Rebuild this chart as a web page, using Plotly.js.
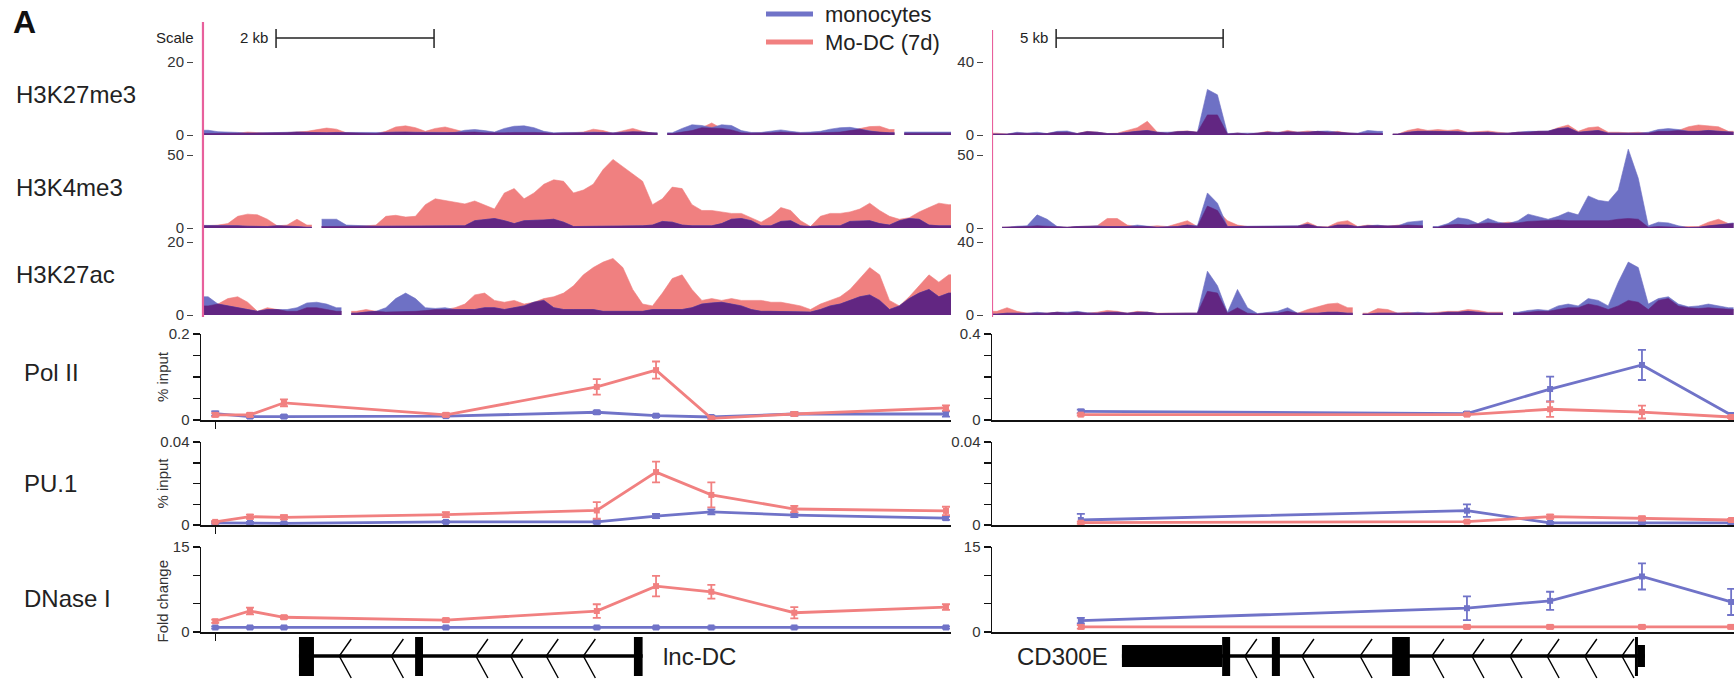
<!DOCTYPE html>
<html><head><meta charset="utf-8">
<script src="https://cdn.plot.ly/plotly-3.0.1.min.js"></script>
<style>html,body{margin:0;padding:0;background:#fff}#chart{width:1734px;height:681px}</style>
</head><body><div id="chart"></div>
<script>
// ---------------- DATA ----------------
// genome tracks: bins along each locus (kb); left bins 0.125 kb, right bins 0.3 kb
const leftBinStart = 0.09, leftBinStep = 0.125;
const rightBinStart = 0.15, rightBinStep = 0.3;

const L_H3K27me3_modc = [0.4,0.4,0.4,0.5,0.8,0.6,0.5,0.6,0.6,0.8,
1.0,1.5,1.9,1.6,0.6,0.5,0.3,0.4,1.0,2.2,
2.5,2.0,1.0,1.8,2.2,1.5,0.8,0.8,0.6,0.5,
0.6,0.7,0.8,0.7,0.6,0.4,0.5,0.6,0.8,1.6,
1.2,0.5,1.2,1.8,1.0,0.5,null,0.4,0.8,1.2,
2.0,3.3,1.8,1.4,0.6,0.5,0.5,0.6,0.8,0.6,
0.5,0.5,0.6,0.7,0.8,1.2,1.8,2.3,2.4,1.5,
null,0.5,0.5,0.5,0.5,0.5];
const L_H3K27me3_mono = [1.3,0.9,0.7,0.7,0.5,0.6,0.7,0.8,0.9,0.8,
0.7,0.6,0.6,0.7,0.7,0.6,0.5,0.6,0.7,0.8,
0.8,0.7,0.6,0.6,0.6,0.7,1.3,1.5,1.2,0.8,
1.8,2.4,2.5,2.0,1.0,0.6,0.7,0.6,0.7,0.8,
0.7,0.6,0.8,0.9,0.8,0.6,null,0.6,1.8,2.8,
2.6,2.0,2.8,2.6,1.2,0.7,0.7,1.0,1.4,1.0,
0.7,0.8,1.0,1.6,2.0,2.1,1.6,1.0,0.7,0.6,
null,0.8,0.8,0.8,0.8,0.8];
const L_H3K4me3_modc = [1.5,2.0,3.0,8.0,9.5,9.0,6.0,1.5,2.0,6.0,
2.0,null,1.0,1.0,1.0,1.0,1.5,2.0,8.0,8.7,
7.5,8.0,16,20,19,17.5,16.5,18.5,16,13,
24,27,20,24,30,33,32,24,26,30,
40,47,42,37,32,16,20,28,27,16,
12,12,11,10,10,7,4,8,14,12,
5,1,8,10,10,11,13,17,12,8,
6,7,11,14,17,16];
const L_H3K4me3_mono = [1.8,1.8,1.8,1.5,1.2,1.0,1.0,1.5,1.5,1.0,
0.5,null,6.0,6.0,2.0,1.5,1.5,1.2,1.2,1.2,
1.2,1.5,1.5,1.5,1.5,1.5,1.5,5.0,6.0,6.5,
5.0,3.0,5.0,5.0,5.5,6.0,4.0,1.0,1.0,1.0,
1.0,1.0,1.0,1.5,1.5,2.0,4.5,4.0,2.0,1.5,
1.5,1.5,3.0,6.0,6.5,5.0,1.5,1.5,4.5,5.0,
1.5,1.0,1.5,1.5,1.5,4.5,5.0,5.0,3.0,2.0,
5.0,6.5,6.0,2.0,1.5,1.5];
const L_H3K27ac_modc = [2.5,3.0,4.5,5.0,3.5,1.0,2.0,1.5,1.0,1.0,
2.0,2.0,1.5,1.0,null,1.0,1.5,1.0,0.8,0.8,
1.0,1.0,1.2,1.5,1.5,2.0,3.0,5.5,6.0,4.0,
3.5,4.0,3.0,3.5,4.5,5.0,6.0,8.0,11,13,
14.5,15.5,13,7,3,2.5,6,10,11,7,
4,4.5,4,4.5,4,4,4,3.5,3.5,3,
2.5,1.5,3,4,5,7,10,13,11,4,
2.5,5,8,11,9,11];
const L_H3K27ac_mono = [5.0,3.0,2.5,2.0,1.5,1.0,1.5,1.5,1.5,2.0,
3.3,3.5,3.0,2.0,null,0.5,0.8,1.0,2.0,4.5,
6.0,4.5,2.0,1.8,2.0,1.5,1.5,1.5,2.0,2.0,
1.5,2.0,2.5,3.5,4.0,2.0,1.5,1.5,1.5,1.5,
1.0,1.0,1.0,1.0,1.0,1.5,1.5,1.5,1.5,2.0,
3.0,3.3,3.5,3.0,2.5,1.5,1.0,1.0,1.0,1.0,
1.0,0.8,1.5,2.5,3.0,4.0,5.0,5.5,4.0,1.5,
2.5,4.5,6.0,7.0,5.0,6.0];

const R_H3K27me3_modc = [1.0,0.5,1.0,0.8,1.0,0.8,1.5,1.5,0.8,2.0,
1.5,0.8,1.0,2.5,4.0,7.5,1.5,1.0,2.0,2.2,
1.5,11,11,0.5,1.0,0.5,1.0,2.0,1.2,2.5,
1.5,2.2,2.0,1.5,2.0,1.0,0.8,1.0,0.8,null,
0.5,2.5,3.5,2.5,3.0,2.5,3.0,1.5,2.0,2.2,
1.5,1.0,1.5,1.5,2.0,2.0,4.0,5.5,2.0,4.0,
4.5,1.5,1.5,1.2,1.5,1.0,2.0,2.0,2.5,4.5,
5.5,5.0,4.5,2.0];
const R_H3K27me3_mono = [0.5,0.5,1.5,1.0,1.5,0.8,2.0,2.2,0.8,1.8,
1.5,0.8,0.8,1.2,2.0,2.5,1.5,1.5,1.8,2.0,
1.5,25,22,0.8,1.0,0.8,1.0,1.5,1.5,1.8,
1.5,1.5,2.0,2.2,1.5,1.0,1.0,2.5,2.0,null,
0.5,1.5,2.0,2.0,2.0,2.0,1.8,1.2,1.5,1.5,
1.0,1.0,1.5,2.0,2.0,2.2,3.5,4.0,1.5,2.0,
2.5,1.0,1.0,1.0,1.0,1.5,3.0,3.5,3.0,2.0,
2.0,2.5,2.0,1.5];
const R_H3K4me3_modc = [null,0.5,1.0,1.0,1.5,1.0,0.8,0.5,1.0,1.0,
1.5,6.5,6.5,2.0,1.0,1.0,1.5,1.0,3.0,5.0,
1.0,15,12,5.0,2.0,1.0,0.8,1.0,1.0,1.0,
1.2,4.0,1.0,0.8,4.0,5.0,1.0,2.0,1.5,1.0,
2.0,2.0,1.5,null,0.5,2.0,2.5,2.0,2.5,3.5,
3.0,4.0,3.5,4.5,5.0,5.0,5.5,5.0,5.0,5.0,
5.5,5.0,6.0,6.5,6.0,0.5,1.0,1.0,0.5,0.8,
1.0,4.0,6.0,3.0];
const R_H3K4me3_mono = [null,0.5,1.2,1.5,9.0,6.0,1.0,0.5,1.0,1.2,
1.5,1.0,1.0,1.0,2.0,1.0,0.5,0.8,1.0,2.0,
1.5,24,17,1.0,1.0,1.2,1.0,1.5,1.2,1.2,
1.5,2.5,0.8,0.5,2.0,2.0,0.8,1.5,2.0,1.0,
1.5,4.0,5.0,null,1.0,3.0,7.0,6.0,3.0,6.5,
4.0,3.0,5.0,9.5,8.0,6.0,8.0,11,9.0,22,
19,18,26,54,34,1.5,4.0,3.5,1.5,0.3,
0.5,1.5,2.0,3.5];
const R_H3K27ac_modc = [2.0,4.0,2.0,1.0,0.8,1.0,1.5,1.0,1.5,1.0,
1.5,2.5,2.0,1.0,2.0,1.5,1.0,1.0,0.8,1.0,
1.0,13,12,1.0,4.0,1.0,0.5,1.0,1.0,2.0,
1.0,3.0,4.5,6.0,6.5,4.0,null,1.0,3.5,3.0,
1.0,1.5,1.0,1.0,1.5,2.0,2.0,3.0,2.5,1.5,
1.5,null,1.0,1.5,2.0,2.0,3.0,4.0,4.0,6.0,
5.0,3.0,5.0,8.0,7.0,3.0,8.0,9.0,5.0,4.0,
3.5,4.0,3.5,3.0];
const R_H3K27ac_mono = [0.5,1.0,1.0,0.8,1.5,1.0,1.5,1.5,2.0,1.2,
1.0,1.5,1.5,1.0,1.5,1.5,0.8,1.0,1.0,1.0,
1.0,24,16,1.5,14,4.0,0.8,1.5,2.0,4.0,
1.0,1.0,1.0,1.5,1.5,1.0,null,0.5,1.0,1.0,
1.0,1.0,1.5,1.0,1.0,1.5,1.5,2.0,1.5,1.0,
1.0,null,1.5,2.5,3.0,2.5,5.0,6.0,5.0,9.0,
8.0,5.0,18,29,26,6.0,9.0,10,6.0,4.5,
5.0,6.0,5.0,4.0];

// qPCR positions (kb along locus)
const leftPos  = [0.18, 0.62, 1.05, 3.10, 5.01, 5.76, 6.46, 7.51, 9.43];
const rightPos = [2.66, 14.22, 16.71, 19.46, 22.13];

const L_PolII_mono = [0.015,0.008,0.008,0.009,0.018,0.010,0.007,0.014,0.014];
const L_PolII_modc = [0.012,0.012,0.040,0.012,0.077,0.116,0.004,0.014,0.028];
const L_PolII_mono_err = [0.005,0.003,0.003,0.003,0.004,0.003,0.003,0.004,0.006];
const L_PolII_modc_err = [0.004,0.004,0.008,0.004,0.018,0.02,0.003,0.004,0.006];
const L_PU1_mono = [0.001,0.001,0.0008,0.0015,0.0015,0.0043,0.0063,0.0048,0.0033];
const L_PU1_modc = [0.0015,0.004,0.0037,0.005,0.007,0.0255,0.0145,0.0077,0.0068];
const L_PU1_mono_err = [0.0005,0.0005,0.0005,0.0005,0.0008,0.001,0.0012,0.001,0.0008];
const L_PU1_modc_err = [0.0005,0.001,0.001,0.0012,0.004,0.005,0.006,0.0015,0.002];
const L_DNase_mono = [0.8,0.8,0.8,0.8,0.8,0.8,0.8,0.8,0.8];
const L_DNase_modc = [1.9,3.7,2.6,2.1,3.7,8.1,7.1,3.4,4.4];
const L_DNase_mono_err = [0.2,0.2,0.2,0.2,0.2,0.2,0.2,0.2,0.2];
const L_DNase_modc_err = [0.3,0.6,0.3,0.3,1.2,1.8,1.2,1.0,0.5];

const R_PolII_mono = [0.040,0.030,0.144,0.256,0.023];
const R_PolII_modc = [0.025,0.025,0.050,0.037,0.014];
const R_PolII_mono_err = [0.008,0.008,0.058,0.07,0.01];
const R_PolII_modc_err = [0.005,0.005,0.035,0.03,0.005];
const R_PU1_mono = [0.0024,0.0069,0.001,0.001,0.001];
const R_PU1_modc = [0.0011,0.0016,0.004,0.0032,0.0024];
const R_PU1_mono_err = [0.003,0.003,0.0005,0.0005,0.0005];
const R_PU1_modc_err = [0.0005,0.0005,0.001,0.001,0.0005];
const R_DNase_mono = [2.0,4.2,5.5,9.8,5.3];
const R_DNase_modc = [0.9,0.9,0.9,0.9,0.9];
const R_DNase_mono_err = [0.5,2.1,1.6,2.3,2.3];
const R_DNase_modc_err = [0.3,0.3,0.3,0.3,0.3];

// axis tick values
const trackMaxLeft  = [20, 50, 20];
const trackMaxRight = [40, 50, 40];
const lineTicksLeft  = [[0,0.05,0.1,0.15,0.2],[0,0.01,0.02,0.03,0.04],[0,5,10,15]];
const lineTicksRight = [[0,0.1,0.2,0.3,0.4],[0,0.01,0.02,0.03,0.04],[0,5,10,15]];
const lineTickLabelsLeft  = [['0','','','','0.2'],['0','','','','0.04'],['0','','','15']];
const lineTickLabelsRight = [['0','','','','0.4'],['0','','','','0.04'],['0','','','15']];

const trackNames = ['H3K27me3','H3K4me3','H3K27ac'];
const lineNames = ['Pol II','PU.1','DNase I'];
const lineYTitles = ['% input','% input','Fold change'];
const seriesNames = ['monocytes','Mo-DC (7d)'];

// gene models (kb along locus)
const leftGene = {name:'lnc-DC', start:1.24, end:5.59,
  exons:[[1.24,1.43],[2.71,2.81],[5.48,5.59]], utr:[],
  chevrons:[1.75,2.41,3.48,3.92,4.37,4.84]};
const rightGene = {name:'CD300E', start:3.89, end:19.55,
  exons:[[6.89,7.13],[8.38,8.62],[11.98,12.51],[19.25,19.34]], utr:[[3.89,6.89],[19.34,19.55]],
  chevrons:[7.57,9.28,11.02,13.17,14.37,15.51,16.62,17.75,18.86]};
const scaleLeft = {start:0.95, len:2, label:'2 kb'};
const scaleRight = {start:1.92, len:5, label:'5 kb'};

// ---------------- STYLE / LAYOUT ----------------
const W = 1734, H = 681;
const FONT = 'Liberation Sans, Arial, Helvetica, sans-serif';
const PINK = 'rgb(240,128,128)', BLUE = 'rgb(110,113,197)', PURPLE = 'rgb(98,38,130)';
const LPINK = 'rgb(241,128,128)', LBLUE = 'rgb(112,115,200)';
const PINKLINE = 'rgb(232,96,156)';
const X = px => px / W;
const Y = py => 1 - py / H;
const leftDom = [X(201), X(951)], rightDom = [X(992), 1];
const leftPxPerKb = 79, rightPxPerKb = 33.4;
const leftRange = [0, 750 / leftPxPerKb], rightRange = [0, 742 / rightPxPerKb];

const trackRows = [{zero:135, top:62}, {zero:228, top:155}, {zero:315, top:242}];
const lineRows = [{zero:420, top:334}, {zero:525, top:442}, {zero:632, top:547}];
const HEAD = 1.12;

const traces = [];
const layout = {
  width: W, height: H, margin:{l:0,r:0,t:0,b:0},
  paper_bgcolor:'#fff', plot_bgcolor:'rgba(0,0,0,0)',
  font:{family:FONT, color:'#222'},
  showlegend:false,
  shapes:[], annotations:[]
};

// split a binned series at missing bins; each run spans its bins' full width
function segments(arr, x0, dx) {
  const segs = []; let cur = null;
  arr.forEach((v, i) => {
    if (v == null) { cur = null; return; }
    if (!cur) { cur = {x:[x0 + i*dx - dx/2], y:[v]}; segs.push(cur); }
    cur.x.push(x0 + i*dx); cur.y.push(v);
  });
  segs.forEach(s => { s.x.push(s.x[s.x.length-1] + dx/2); s.y.push(s.y[s.y.length-1]); });
  return segs;
}
function addArea(arr, color, xa, ya, x0, dx) {
  segments(arr, x0, dx).forEach(s => traces.push({
    type:'scatter', x: s.x, y: s.y, xaxis: xa, yaxis: ya,
    mode:'lines', fill:'tozeroy', fillcolor: color, line:{width:0.6, color: color},
    hoverinfo:'skip', showlegend:false
  }));
}
function addTrack(modc, mono, xa, ya, x0, dx) {
  const ov = modc.map((p, i) => (p == null || mono[i] == null) ? null : Math.min(p, mono[i]));
  addArea(modc, PINK, xa, ya, x0, dx);
  addArea(mono, BLUE, xa, ya, x0, dx);
  addArea(ov, PURPLE, xa, ya, x0, dx);
}
function axName(n){ return n === 1 ? '' : String(n); }

// Track axes
const trackData = [
  [L_H3K27me3_modc, L_H3K27me3_mono, R_H3K27me3_modc, R_H3K27me3_mono],
  [L_H3K4me3_modc, L_H3K4me3_mono, R_H3K4me3_modc, R_H3K4me3_mono],
  [L_H3K27ac_modc, L_H3K27ac_mono, R_H3K27ac_modc, R_H3K27ac_mono]
];
layout.xaxis = {domain:leftDom, range:leftRange, visible:false, anchor:'y', fixedrange:true};
layout.xaxis5 = {domain:rightDom, range:rightRange, visible:false, anchor:'y7', fixedrange:true};

function trackYAxis(row, max, xa, posPx) {
  const h = row.zero - row.top;
  return {domain:[Y(row.zero), Y(row.zero - h*HEAD)], range:[0, max*HEAD], anchor:'free',
    position: X(posPx), side:'left',
    tickvals:[0, max], ticktext:['0', String(max)], ticks:'outside', ticklen:6, tickwidth:1,
    tickcolor:'#444', showline:false, showgrid:false, zeroline:false,
    tickfont:{size:15, family:FONT, color:'#333'}, fixedrange:true};
}
trackRows.forEach((row, k) => {
  const yl = k + 1, yr = k + 7;
  layout['yaxis' + axName(yl)] = trackYAxis(row, trackMaxLeft[k], 'x', 193);
  layout['yaxis' + yr] = trackYAxis(row, trackMaxRight[k], 'x5', 983);
  addTrack(trackData[k][0], trackData[k][1], 'x', 'y' + axName(yl), leftBinStart, leftBinStep);
  addTrack(trackData[k][2], trackData[k][3], 'x5', 'y' + yr, rightBinStart, rightBinStep);
  layout.annotations.push({xref:'paper', yref:'paper', x:X(14), y:Y(row.top + 0.44*(row.zero - row.top)),
    text: trackNames[k], showarrow:false, xanchor:'left', yanchor:'middle', font:{size:24, family:FONT, color:'#222'}});
});

// Line plots
const lineData = [
  [L_PolII_mono, L_PolII_mono_err, L_PolII_modc, L_PolII_modc_err, R_PolII_mono, R_PolII_mono_err, R_PolII_modc, R_PolII_modc_err],
  [L_PU1_mono, L_PU1_mono_err, L_PU1_modc, L_PU1_modc_err, R_PU1_mono, R_PU1_mono_err, R_PU1_modc, R_PU1_modc_err],
  [L_DNase_mono, L_DNase_mono_err, L_DNase_modc, L_DNase_modc_err, R_DNase_mono, R_DNase_mono_err, R_DNase_modc, R_DNase_modc_err]
];
function lineTrace(x, y, err, color, xa, ya) {
  return {type:'scatter', x:x, y:y, xaxis:xa, yaxis:ya, mode:'lines+markers', cliponaxis:false,
    line:{color:color, width:2.8}, marker:{symbol:'square', size:6, color:color},
    error_y:{type:'data', array:err, visible:true, color:color, thickness:1.8, width:4},
    hoverinfo:'skip', showlegend:false};
}
function lineYAxis(row, ticks, labels, xa) {
  return {domain:[Y(row.zero), Y(row.top)], range:[0, ticks[ticks.length-1]], anchor:xa,
    tickvals:ticks, ticktext:labels, ticks:'outside', ticklen:7, tickwidth:1.5, tickcolor:'#111',
    showline:true, linecolor:'#111', linewidth:1.5, showgrid:false, zeroline:false,
    tickfont:{size:15, family:FONT, color:'#333'}, fixedrange:true};
}
const lineLabelFrac = [0.45, 0.5, 0.6];
lineRows.forEach((row, k) => {
  const xl = 2 + k, yl = 4 + k, xr = 6 + k, yr = 10 + k;
  layout['xaxis' + xl] = {domain:leftDom, range:leftRange, anchor:'y' + yl, showline:true, linecolor:'#111', linewidth:1.5,
    tickvals:[leftPos[0]], ticktext:[''], ticks:'outside', ticklen:7, tickwidth:1.2, tickcolor:'#111', showgrid:false, zeroline:false, fixedrange:true};
  layout['xaxis' + xr] = {domain:rightDom, range:rightRange, anchor:'y' + yr, showline:true, linecolor:'#111', linewidth:1.5,
    showticklabels:false, ticks:'', showgrid:false, zeroline:false, fixedrange:true};
  layout['yaxis' + yl] = lineYAxis(row, lineTicksLeft[k], lineTickLabelsLeft[k], 'x' + xl);
  layout['yaxis' + yr] = lineYAxis(row, lineTicksRight[k], lineTickLabelsRight[k], 'x' + xr);
  const d = lineData[k];
  traces.push(lineTrace(leftPos, d[0], d[1], LBLUE, 'x' + xl, 'y' + yl));
  traces.push(lineTrace(leftPos, d[2], d[3], LPINK, 'x' + xl, 'y' + yl));
  traces.push(lineTrace(rightPos, d[4], d[5], LBLUE, 'x' + xr, 'y' + yr));
  traces.push(lineTrace(rightPos, d[6], d[7], LPINK, 'x' + xr, 'y' + yr));
  const mid = (row.zero + row.top) / 2;
  layout.annotations.push({xref:'paper', yref:'paper', x:X(22), y:Y(row.top + lineLabelFrac[k]*(row.zero - row.top)), text: lineNames[k], showarrow:false,
    xanchor:'left', yanchor:'middle', font:{size:24, family:FONT, color:'#222'}});
  layout.annotations.push({xref:'paper', yref:'paper', x:X(162), y:Y(k === 2 ? mid + 12 : mid), text: lineYTitles[k], showarrow:false,
    textangle:-90, xanchor:'center', yanchor:'middle', font:{size:15, family:FONT, color:'#333'}});
});

// Legend (drawn as keyed line samples with labels)
[[LBLUE, 14], [LPINK, 42]].forEach(([c, py], i) => {
  layout.shapes.push({type:'line', xref:'paper', yref:'paper', x0:X(766), x1:X(813), y0:Y(py), y1:Y(py), line:{color:c, width:5}});
  layout.annotations.push({xref:'paper', yref:'paper', x:X(823), y:Y(py), text:seriesNames[i], showarrow:false,
    xanchor:'left', yanchor:'middle', font:{size:22, family:FONT, color:'#222'}});
});

// Pink browser boundary lines
layout.shapes.push({type:'line', xref:'x', yref:'paper', x0:0.025, x1:0.025, y0:Y(22), y1:Y(317), line:{color:PINKLINE, width:2.2}});
layout.shapes.push({type:'line', xref:'x5', yref:'paper', x0:0.0, x1:0.0, y0:Y(30), y1:Y(317), line:{color:PINKLINE, width:2.2}});

// Scale bars
function scaleBar(sb, xref) {
  const yc = Y(38);
  layout.shapes.push({type:'line', xref, yref:'paper', x0:sb.start, x1:sb.start+sb.len, y0:yc, y1:yc, line:{color:'#222', width:1.5}});
  [sb.start, sb.start+sb.len].forEach(x => layout.shapes.push({type:'line', xref, yref:'paper', x0:x, x1:x, y0:Y(29), y1:Y(48), line:{color:'#222', width:1.5}}));
  layout.annotations.push({xref, yref:'paper', x:sb.start, y:yc, xshift:-6, text:sb.label, showarrow:false, xanchor:'right', yanchor:'middle', font:{size:15, family:FONT, color:'#222'}});
}
scaleBar(scaleLeft, 'x');
scaleBar(scaleRight, 'x5');
layout.annotations.push({xref:'paper', yref:'paper', x:X(196), y:Y(38), text:'Scale', showarrow:false, xanchor:'right', yanchor:'middle', font:{size:15, family:FONT, color:'#222'}});
layout.annotations.push({xref:'paper', yref:'paper', x:X(11), y:Y(22), text:'<b>A</b>', showarrow:false, xanchor:'left', yanchor:'middle', font:{size:32, family:FONT, color:'#111'}});

// Gene models
function gene(g, xref, pxPerKb, labelSide) {
  const yc = Y(656);
  layout.shapes.push({type:'line', xref, yref:'paper', x0:g.start, x1:g.end, y0:yc, y1:yc, line:{color:'#000', width:3.5}});
  g.utr.forEach(([a,b]) => layout.shapes.push({type:'rect', xref, yref:'paper', x0:a, x1:b, y0:Y(667), y1:Y(645), fillcolor:'#000', line:{width:0}}));
  g.exons.forEach(([a,b]) => layout.shapes.push({type:'rect', xref, yref:'paper', x0:a, x1:b, y0:Y(676), y1:Y(637), fillcolor:'#000', line:{width:0}}));
  const w = 12 / pxPerKb;
  g.chevrons.forEach(c => layout.shapes.push({type:'path', xref, yref:'paper',
    path:`M ${c+w},${Y(639)} L ${c},${yc} L ${c+w},${Y(678)}`, line:{color:'#000', width:1.4}}));
  if (labelSide === 'right') {
    layout.annotations.push({xref, yref:'paper', x:g.end, xshift:18, y:yc, text:g.name, showarrow:false, xanchor:'left', yanchor:'middle', font:{size:24, family:FONT, color:'#222'}});
  } else {
    layout.annotations.push({xref, yref:'paper', x:g.start, xshift:-12, y:yc, text:g.name, showarrow:false, xanchor:'right', yanchor:'middle', font:{size:24, family:FONT, color:'#222'}});
  }
}
gene(leftGene, 'x', leftPxPerKb, 'right');
gene(rightGene, 'x5', rightPxPerKb, 'left');

Plotly.newPlot('chart', traces, layout, {displayModeBar:false, staticPlot:true});
</script>
</body></html>
